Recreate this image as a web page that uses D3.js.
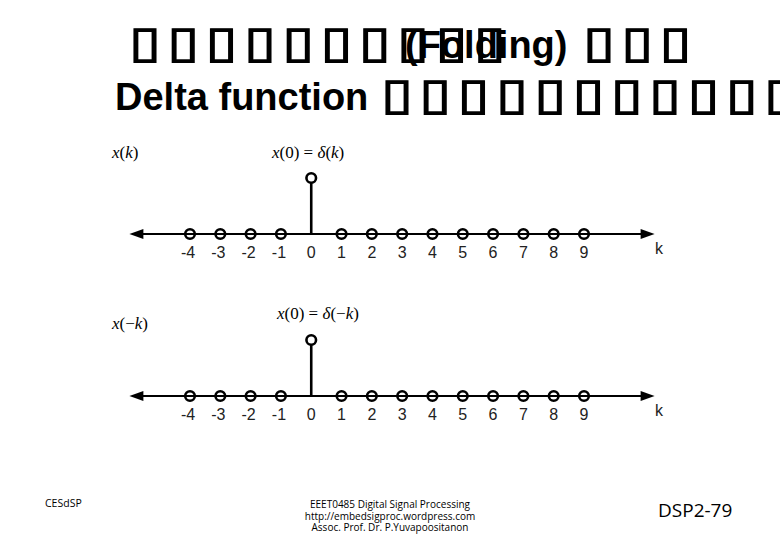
<!DOCTYPE html>
<html>
<head>
<meta charset="utf-8">
<script src="https://cdn.jsdelivr.net/npm/d3@7"></script>
<style>
  body { margin: 0; background: #fff; }
  svg { display: block; }
</style>
</head>
<body>
<div id="chart"></div>
<script>
// Data
const kValues = [-4, -3, -2, -1, 0, 1, 2, 3, 4, 5, 6, 7, 8, 9];
const xOfK = [0, 0, 0, 0, 1, 0, 0, 0, 0, 0, 0, 0, 0, 0];
const xOfNegK = [0, 0, 0, 0, 1, 0, 0, 0, 0, 0, 0, 0, 0, 0];
const tickLabels = kValues.map(String);

const width = 780, height = 540;

const svg = d3.select("#chart")
    .append("svg")
    .attr("width", width)
    .attr("height", height);

// Title (boxes = glyphs the original font could not show)
const BOX = "\u25AF";
const SX = 1.32;

function boxText(x0, n, y) {
    const pos = d3.range(n).map(i => (i * 38.3 / SX).toFixed(2));
    svg.append("text")
        .attr("transform", `translate(${x0},${y}) scale(${SX},1)`)
        .attr("x", pos.join(" "))
        .attr("y", 0)
        .attr("font-family", "DejaVu Sans")
        .attr("font-weight", "bold")
        .attr("font-size", 44)
        .attr("stroke", "#000")
        .attr("stroke-width", 1.3)
        .text(BOX.repeat(n));
}

boxText(129, 10, 57);
boxText(583, 3, 57);
boxText(381, 11, 109);

svg.append("text")
    .attr("x", 405).attr("y", 58)
    .attr("font-family", "Liberation Sans, Arial, sans-serif")
    .attr("font-weight", "bold")
    .attr("font-size", 38)
    .text("(Folding)");

svg.append("text")
    .attr("x", 115).attr("y", 110)
    .attr("font-family", "Liberation Sans, Arial, sans-serif")
    .attr("font-weight", "bold")
    .attr("font-size", 38)
    .text("Delta function");

// Scales
const x = d3.scaleLinear()
    .domain([-4, 9])
    .range([190, 584]);

function stemPlot(values, axisY, yLabel, eqLabel, eqX, eqY) {
    const y = d3.scaleLinear().domain([0, 1]).range([axisY, axisY - 56]);
    const g = svg.append("g");

    // axis line with arrows at both ends
    const left = x(-6), right = x(11.33);
    g.append("line")
        .attr("x1", left + 6).attr("x2", right - 6)
        .attr("y1", y(0)).attr("y2", y(0))
        .attr("stroke", "#000").attr("stroke-width", 2);
    g.append("path")
        .attr("d", `M${left},${y(0)} l14,-5 l0,10 z`)
        .attr("fill", "#000");
    g.append("path")
        .attr("d", `M${right},${y(0)} l-14,-5 l0,10 z`)
        .attr("fill", "#000");

    const data = kValues.map((k, i) => ({ k, v: values[i] }));

    // stems
    g.selectAll(".stem")
        .data(data.filter(d => d.v !== 0))
        .enter()
        .append("line")
        .attr("class", "stem")
        .attr("x1", d => x(d.k)).attr("x2", d => x(d.k))
        .attr("y1", y(0)).attr("y2", d => y(d.v) + 5)
        .attr("stroke", "#000").attr("stroke-width", 2.6);

    // markers
    g.selectAll(".dot")
        .data(data)
        .enter()
        .append("circle")
        .attr("class", "dot")
        .attr("cx", d => x(d.k))
        .attr("cy", d => y(d.v))
        .attr("r", 4.8)
        .attr("fill", d => d.v !== 0 ? "#fff" : "none")
        .attr("stroke", "#000")
        .attr("stroke-width", 2.6);

    // tick labels
    g.selectAll(".tick-label")
        .data(data)
        .enter()
        .append("text")
        .attr("class", "tick-label")
        .attr("x", d => x(d.k) - (d.k < 0 ? 2 : 0))
        .attr("y", y(0) + 24)
        .attr("text-anchor", "middle")
        .attr("font-family", "Liberation Sans, Arial, sans-serif")
        .attr("font-size", 16)
        .attr("fill", "#222")
        .text((d, i) => tickLabels[i]);

    g.append("text")
        .attr("x", 655).attr("y", y(0) + 20)
        .attr("font-family", "Liberation Sans, Arial, sans-serif")
        .attr("font-size", 16)
        .attr("fill", "#222")
        .text("k");

    // math labels
    const math = (sel, parts) => {
        parts.forEach(p => {
            sel.append("tspan")
                .attr("font-style", p[1] ? "italic" : "normal")
                .text(p[0]);
        });
    };

    const yl = g.append("text")
        .attr("x", 112).attr("y", yLabel.y)
        .attr("font-family", "Liberation Serif, Times New Roman, serif")
        .attr("font-size", 17);
    math(yl, yLabel.parts);

    const eq = g.append("text")
        .attr("x", eqX).attr("y", eqY)
        .attr("font-family", "Liberation Serif, Times New Roman, serif")
        .attr("font-size", 17);
    math(eq, eqLabel);
}

stemPlot(xOfK, 234,
    { y: 158, parts: [["x", true], ["(", false], ["k", true], [")", false]] },
    [["x", true], ["(0) = ", false], ["\u03B4", true], ["(", false], ["k", true], [")", false]],
    272, 158);

stemPlot(xOfNegK, 396,
    { y: 329, parts: [["x", true], ["(\u2212", false], ["k", true], [")", false]] },
    [["x", true], ["(0) = ", false], ["\u03B4", true], ["(\u2212", false], ["k", true], [")", false]],
    277, 319);

// Footer
const footFont = "Open Sans, sans-serif";
svg.append("text")
    .attr("x", 45).attr("y", 507)
    .attr("font-family", footFont)
    .attr("font-size", 10.5)
    .text("CESdSP");

const footLines = [
    "EEET0485 Digital Signal Processing",
    "http://embedsigproc.wordpress.com",
    "Assoc. Prof. Dr. P.Yuvapoositanon"
];
svg.selectAll(".foot")
    .data(footLines)
    .enter()
    .append("text")
    .attr("class", "foot")
    .attr("x", 390)
    .attr("y", (d, i) => 508 + i * 11.5)
    .attr("text-anchor", "middle")
    .attr("font-family", footFont)
    .attr("font-size", 10)
    .text(d => d);

svg.append("text")
    .attr("x", 658).attr("y", 517)
    .attr("font-family", footFont)
    .attr("font-size", 19)
    .text("DSP2-79");
</script>
</body>
</html>
